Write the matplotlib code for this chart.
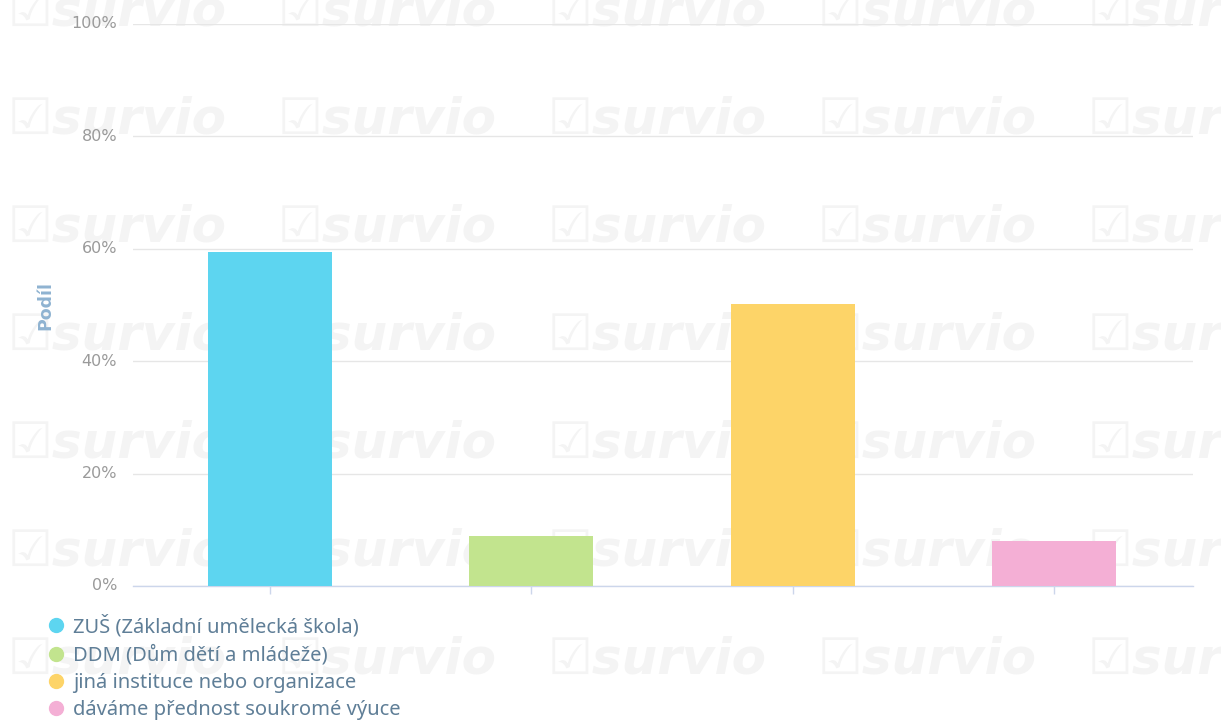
import matplotlib

matplotlib.use("Agg")

import matplotlib.pyplot as plt  # noqa: E402
from matplotlib.lines import Line2D  # noqa: E402

# Survey answers and their share of respondents (in %).
CATEGORIES = [
    "ZUŠ (Základní umělecká škola)",
    "DDM (Dům dětí a mládeže)",
    "jiná instituce nebo organizace",
    "dáváme přednost soukromé výuce",
]
SHARES = [59.4, 8.9, 50.2, 8.0]
COLORS = ["#5dd5f0", "#c2e48e", "#fdd468", "#f4afd5"]
Y_TICKS = [0, 20, 40, 60, 80, 100]
Y_LABEL = "Podíl"
WATERMARK = "☑survio"

W, H, DPI = 1221, 722, 100
fig = plt.figure(figsize=(W / DPI, H / DPI), dpi=DPI)
fig.patch.set_facecolor("white")

# Faint repeated watermark behind the chart.
for row in range(7):
    for col in range(5):
        fig.text(
            (8 + col * 270) / W,
            1 - (12 + row * 108) / H,
            WATERMARK,
            fontsize=36,
            fontweight="bold",
            fontstyle="italic",
            color="#f4f4f4",
            ha="left",
            va="center",
            zorder=0,
        )

left, right, top, bottom = 133, 1193, 24, 586
ax = fig.add_axes([left / W, 1 - bottom / H, (right - left) / W, (bottom - top) / H])
ax.patch.set_alpha(0)
ax.set_zorder(1)

x = list(range(len(CATEGORIES)))
ax.bar(x, SHARES, width=0.475, color=COLORS, zorder=3)

ax.set_xlim(-0.524, len(CATEGORIES) - 1 + 0.532)
ax.set_ylim(0, 100)
ax.set_yticks(Y_TICKS)
ax.set_yticklabels([f"{t}%" for t in Y_TICKS])
ax.set_xticks(x)
ax.set_xticklabels([])
ax.grid(axis="y", color="#e6e6e6", linewidth=1, zorder=0)
for side in ("top", "right", "left"):
    ax.spines[side].set_visible(False)
ax.spines["bottom"].set_color("#ccd6eb")
ax.spines["bottom"].set_linewidth(1)
ax.tick_params(axis="x", length=6, color="#ccd6eb", width=1)
ax.tick_params(axis="y", length=0, pad=11.5, labelcolor="#9a9a9a", labelsize=11.5)
for lbl in ax.get_yticklabels():
    lbl.set_verticalalignment("center")

fig.text(45 / W, 1 - 305 / H, Y_LABEL, rotation=90, ha="center", va="center",
         fontsize=12.5, fontweight="bold", color="#8fb3d1")

handles = [
    Line2D([], [], marker="o", linestyle="none", markersize=10,
           markerfacecolor=c, markeredgecolor=c)
    for c in COLORS
]
fig.legend(
    handles,
    CATEGORIES,
    loc="upper left",
    bbox_to_anchor=(48 / W, 1 - 615 / H),
    frameon=False,
    handletextpad=0.42,
    handlelength=0.8,
    labelspacing=0.37,
    borderpad=0,
    borderaxespad=0,
    prop={"family": "Noto Sans", "size": 14.5},
    labelcolor="#5f7e97",
)

fig.savefig("out.png", dpi=DPI, facecolor="white")
